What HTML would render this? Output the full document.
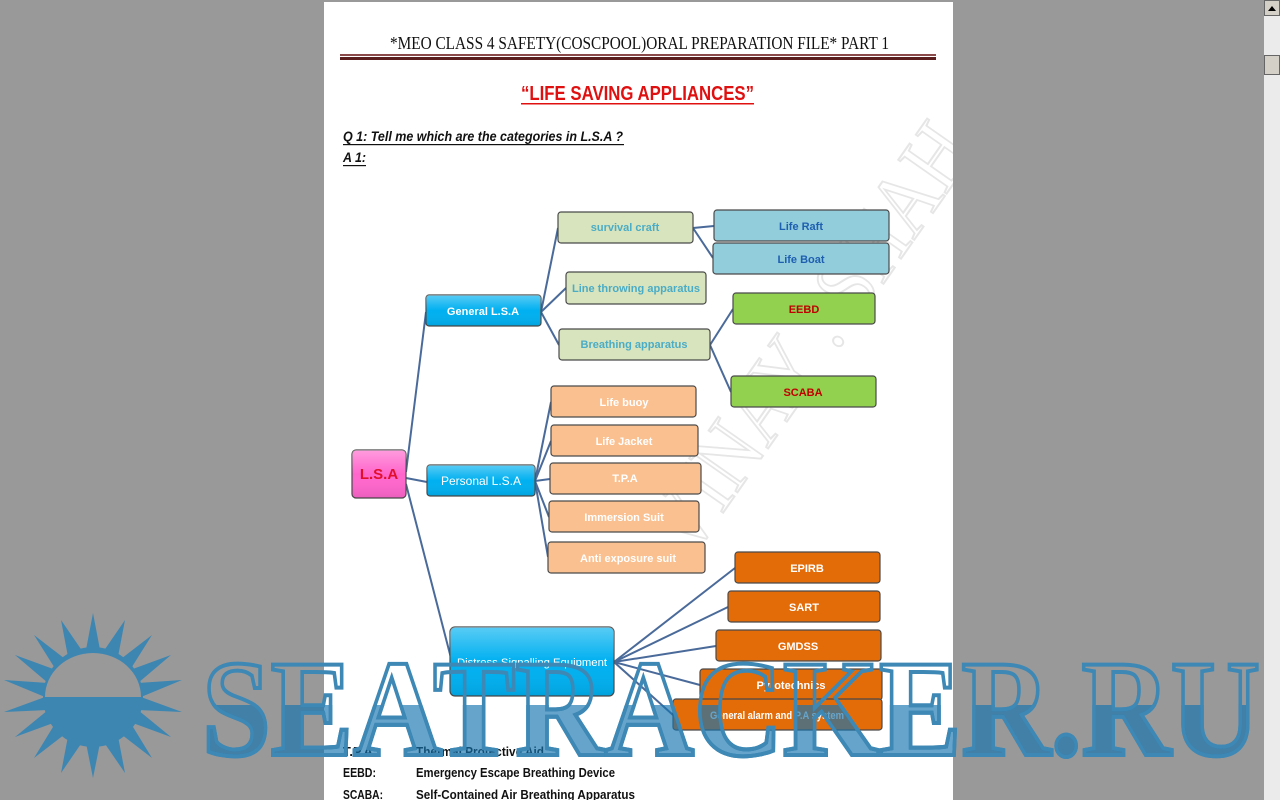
<!DOCTYPE html>
<html><head><meta charset="utf-8"><style>
html,body{margin:0;padding:0;width:1280px;height:800px;overflow:hidden;background:#999999}
svg{display:block}
</style></head><body>
<svg width="1280" height="800" viewBox="0 0 1280 800" xmlns="http://www.w3.org/2000/svg" font-family="Liberation Sans, sans-serif">
<defs>
<linearGradient id="gl" x1="0" y1="0" x2="0" y2="1"><stop offset="0" stop-color="#fff" stop-opacity=".35"/><stop offset=".5" stop-color="#fff" stop-opacity="0"/><stop offset="1" stop-color="#000" stop-opacity=".08"/></linearGradient>
<clipPath id="low"><rect x="0" y="705" width="1280" height="100"/></clipPath>
<clipPath id="pg"><rect x="324" y="2" width="629" height="800"/></clipPath>
</defs>
<rect x="0" y="0" width="1280" height="800" fill="#999"/>
<rect x="324" y="2" width="629" height="800" fill="#fff"/>
<!-- scrollbar -->
<rect x="1264" y="0" width="16" height="800" fill="#ebebeb"/>
<rect x="1264.5" y="0.5" width="15" height="15" fill="#d4d0c8" stroke="#666"/>
<polygon points="1268,11 1272,6 1276,11" fill="#000"/>
<rect x="1264.5" y="55.5" width="15" height="19" fill="#d4d0c8" stroke="#666"/>
<!-- faint diagonal watermark -->
<g clip-path="url(#pg)">
<text x="0" y="0" transform="translate(690,560) rotate(-55)" font-family="Liberation Serif, serif" font-size="90" fill="none" stroke="#e6e6e6" stroke-width="2" textLength="500" lengthAdjust="spacingAndGlyphs">VINAY . SHAH</text>
</g>
<!-- header -->
<text x="390" y="49" font-family="Liberation Serif, serif" font-size="18" textLength="499" lengthAdjust="spacingAndGlyphs" fill="#111">*MEO CLASS 4 SAFETY(COSCPOOL)ORAL PREPARATION FILE* PART 1</text>
<rect x="340" y="54" width="596" height="2" fill="#8b4a4a"/>
<rect x="340" y="57" width="596" height="3" fill="#5a1e1e"/>
<text x="521" y="100" font-size="20" font-weight="bold" textLength="233" lengthAdjust="spacingAndGlyphs" fill="#e01010">“LIFE SAVING APPLIANCES”</text>
<rect x="521" y="103" width="233" height="1.5" fill="#e01010"/>
<text x="343" y="141" font-size="14" font-weight="bold" font-style="italic" textLength="280" lengthAdjust="spacingAndGlyphs" fill="#111">Q 1:  Tell me which are the categories in L.S.A ?</text>
<rect x="343" y="144" width="281" height="1.2" fill="#111"/>
<text x="343" y="162" font-size="14" font-weight="bold" font-style="italic" textLength="23" lengthAdjust="spacingAndGlyphs" fill="#111">A 1:</text>
<rect x="343" y="165" width="23" height="1.2" fill="#111"/>
<!-- connectors -->
<g stroke="#4a6a9a" stroke-width="2" fill="none">
<path d="M406,472 L426,312"/><path d="M406,478 L427,482"/><path d="M406,484 L452,662"/>
<path d="M541,312 L558,228"/><path d="M541,312 L566,288"/><path d="M541,312 L559,345"/>
<path d="M693,228 L714,226"/><path d="M693,228 L713,258"/>
<path d="M710,345 L733,309"/><path d="M710,345 L731,392"/>
<path d="M535,481 L551,402"/><path d="M535,481 L551,441"/><path d="M535,481 L550,479"/><path d="M535,481 L549,517"/><path d="M535,481 L548,557"/>
<path d="M614,662 L735,568"/><path d="M614,662 L728,607"/><path d="M614,662 L716,646"/><path d="M614,662 L700,685"/><path d="M614,662 L673,715"/>
</g>
<!-- nodes -->
<g stroke="#4a4a4a" stroke-width="1.2">
<rect x="352" y="450" width="54" height="48" rx="4" fill="#ff66cc"/>
<rect x="426" y="295" width="115" height="31" rx="3" fill="#00b0f0"/>
<rect x="427" y="465" width="108" height="31" rx="3" fill="#00b0f0"/>
<rect x="450" y="627" width="164" height="69" rx="5" fill="#00b0f0"/>
<rect x="558" y="212" width="135" height="31" rx="3" fill="#d7e4bd"/>
<rect x="566" y="272" width="140" height="32" rx="3" fill="#d7e4bd"/>
<rect x="559" y="329" width="151" height="31" rx="3" fill="#d7e4bd"/>
<rect x="714" y="210" width="175" height="31" rx="3" fill="#92cddc"/>
<rect x="713" y="243" width="176" height="31" rx="3" fill="#92cddc"/>
<rect x="733" y="293" width="142" height="31" rx="3" fill="#92d050"/>
<rect x="731" y="376" width="145" height="31" rx="3" fill="#92d050"/>
<rect x="551" y="386" width="145" height="31" rx="3" fill="#fac090"/>
<rect x="551" y="425" width="147" height="31" rx="3" fill="#fac090"/>
<rect x="550" y="463" width="151" height="31" rx="3" fill="#fac090"/>
<rect x="549" y="501" width="150" height="31" rx="3" fill="#fac090"/>
<rect x="548" y="542" width="157" height="31" rx="3" fill="#fac090"/>
<rect x="735" y="552" width="145" height="31" rx="3" fill="#e36c09"/>
<rect x="728" y="591" width="152" height="31" rx="3" fill="#e36c09"/>
<rect x="716" y="630" width="165" height="31" rx="3" fill="#e36c09"/>
<rect x="700" y="669" width="182" height="31" rx="3" fill="#e36c09"/>
<rect x="673" y="699" width="209" height="31" rx="3" fill="#e36c09"/>
</g>
<g fill="url(#gl)">
<rect x="352" y="450" width="54" height="48" rx="4"/><rect x="426" y="295" width="115" height="31" rx="3"/><rect x="427" y="465" width="108" height="31" rx="3"/><rect x="450" y="627" width="164" height="69" rx="5"/>
</g>
<g font-size="11" font-weight="bold" text-anchor="middle">
<text x="379" y="479" font-size="15" fill="#e0102a">L.S.A</text>
<text x="483" y="315" fill="#fff">General L.S.A</text>
<text x="481" y="485" font-size="12" fill="#fff" font-weight="normal">Personal L.S.A</text>
<text x="532" y="666" fill="#fff" font-weight="normal" font-size="11" textLength="150" lengthAdjust="spacingAndGlyphs">Distress Signalling Equipment</text>
<text x="625" y="231" fill="#4bacc6">survival craft</text>
<text x="636" y="292" fill="#4bacc6" textLength="128" lengthAdjust="spacingAndGlyphs">Line throwing apparatus</text>
<text x="634" y="348" fill="#4bacc6">Breathing apparatus</text>
<text x="801" y="230" fill="#1f5fb0">Life Raft</text>
<text x="801" y="263" fill="#1f5fb0">Life Boat</text>
<text x="804" y="313" fill="#c00000">EEBD</text>
<text x="803" y="396" fill="#c00000">SCABA</text>
<text x="624" y="406" fill="#fff">Life buoy</text>
<text x="624" y="445" fill="#fff">Life Jacket</text>
<text x="625" y="482" fill="#fff">T.P.A</text>
<text x="624" y="521" fill="#fff">Immersion Suit</text>
<text x="628" y="562" fill="#fff">Anti exposure suit</text>
<text x="807" y="572" fill="#fff">EPIRB</text>
<text x="804" y="611" fill="#fff">SART</text>
<text x="798" y="650" fill="#fff">GMDSS</text>
<text x="791" y="689" fill="#fff">Pyrotechnics</text>
<text x="777" y="719" fill="#fff" textLength="134" lengthAdjust="spacingAndGlyphs">General alarm and P.A system</text>
</g>
<!-- footer text -->
<g font-size="13" fill="#111" font-weight="bold">
<text x="343" y="756" textLength="34" lengthAdjust="spacingAndGlyphs">T.P.A:</text>
<text x="416" y="756" textLength="128" lengthAdjust="spacingAndGlyphs">Thermal Protective Aid</text>
<text x="343" y="777" textLength="33" lengthAdjust="spacingAndGlyphs">EEBD:</text>
<text x="416" y="777" textLength="199" lengthAdjust="spacingAndGlyphs">Emergency Escape Breathing Device</text>
<text x="343" y="799" textLength="40" lengthAdjust="spacingAndGlyphs">SCABA:</text>
<text x="416" y="799" textLength="219" lengthAdjust="spacingAndGlyphs">Self-Contained Air Breathing Apparatus</text>
</g>
<!-- seatracker watermark -->
<g>
<polygon fill="#3d86b2" points="93,613 101,655 125,620 117,662 152,635 130,670 171,655 138,683 182,680 141,697 182,712 138,710 171,737 130,722 152,758 117,731 125,773 101,738 93,778 85,738 61,773 69,731 34,758 56,722 15,737 48,710 4,712 45,697 4,680 48,683 15,655 56,670 34,635 69,662 61,620 85,655"/>
<circle cx="93" cy="697" r="50" fill="#3d86b2"/>
<path d="M45,697 A48,44 0 0 1 141,697 Z" fill="#999"/>
<text x="202" y="755" font-family="Liberation Serif, serif" font-weight="bold" font-size="138" textLength="1058" lengthAdjust="spacingAndGlyphs" fill="none" stroke="#3d88b5" stroke-width="4">SEATRACKER.RU</text>
<text x="202" y="755" clip-path="url(#low)" font-family="Liberation Serif, serif" font-weight="bold" font-size="138" textLength="1058" lengthAdjust="spacingAndGlyphs" fill="rgba(20,115,175,0.65)" stroke="#3d88b5" stroke-width="4">SEATRACKER.RU</text>
</g>
</svg>
</body></html>
